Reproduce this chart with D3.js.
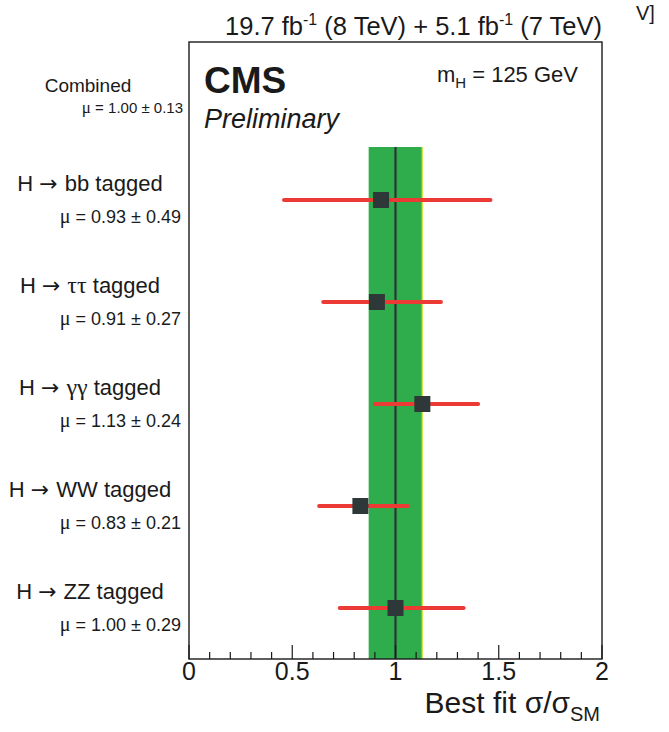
<!DOCTYPE html>
<html>
<head>
<meta charset="utf-8">
<script src="https://cdn.jsdelivr.net/npm/d3@7"></script>
<style>
body { margin: 0; background: #fff; }
text { font-family: "Liberation Sans", Arial, sans-serif; fill: #1a1a1a; }
</style>
</head>
<body>
<div class="mu-container"></div>
<script>
var width = 669, height = 732;

// rows: combined first, then the five tagged channels
var rows = ["comb", "bb", "tt", "gg", "ww", "zz"];
var channelRows = ["bb", "tt", "gg", "ww", "zz"];
var channelNames = ["bb", "ττ", "γγ", "WW", "ZZ"];
var greekName = [false, true, true, false, false];
var bestFit = [0.93, 0.91, 1.13, 0.83, 1.00];
var errLow = [0.46, 0.65, 0.90, 0.63, 0.73];
var errHigh = [1.46, 1.22, 1.40, 1.06, 1.33];
var muLabels = ["= 0.93 ± 0.49", "= 0.91 ± 0.27", "= 1.13 ± 0.24", "= 0.83 ± 0.21", "= 1.00 ± 0.29"];
var combined = { mu: 1.00, err: 0.13, label: "= 1.00 ± 0.13" };
var tickLabels = ["0", "0.5", "1", "1.5", "2"];

var svg = d3.select(".mu-container").append("svg").attr("width", width).attr("height", height);

var x = d3.scaleLinear().domain([0, 2]).range([189, 602]);
var y = d3.scalePoint().domain(rows).range([98, 608]);
var frameTop = 42, frameBottom = 659;

// combined band
svg.append("rect")
	.attr("x", x(combined.mu - combined.err))
	.attr("y", 147)
	.attr("width", x(combined.mu + combined.err) - x(combined.mu - combined.err))
	.attr("height", frameBottom - 147)
	.style("fill", "#2fad4c");
svg.append("line")
	.attr("x1", x(combined.mu + combined.err)).attr("x2", x(combined.mu + combined.err))
	.attr("y1", 147).attr("y2", frameBottom)
	.style("stroke", "#cfe44a").style("stroke-width", 1.5);
svg.append("line")
	.attr("x1", x(combined.mu)).attr("x2", x(combined.mu))
	.attr("y1", 147).attr("y2", frameBottom)
	.style("stroke", "#2b3436").style("stroke-width", 2.2);

// frame
svg.append("rect")
	.attr("x", x(0)).attr("y", frameTop)
	.attr("width", x(2) - x(0)).attr("height", frameBottom - frameTop)
	.style("fill", "none").style("stroke", "#1a1a1a").style("stroke-width", 1.4);

// x axis ticks pointing up
var minor = d3.range(0, 2.001, 0.1);
svg.append("g").selectAll("line").data(minor).enter().append("line")
	.attr("x1", function(d) { return x(d); }).attr("x2", function(d) { return x(d); })
	.attr("y1", frameBottom)
	.attr("y2", function(d) { return Math.abs(d * 2 - Math.round(d * 2)) < 1e-6 ? frameBottom - 14 : frameBottom - 7; })
	.style("stroke", "#1a1a1a").style("stroke-width", 1.2);
svg.append("g").selectAll("text").data(tickLabels).enter().append("text")
	.attr("x", function(d) { return x(+d); })
	.attr("y", 680)
	.attr("text-anchor", "middle")
	.style("font-size", "25px")
	.text(function(d) { return d; });

var xt = svg.append("text").attr("x", 600).attr("y", 713).attr("text-anchor", "end").style("font-size", "30px");
xt.append("tspan").text("Best fit σ/σ");
xt.append("tspan").attr("dy", 8).style("font-size", "20px").text("SM");

// error bars and points
var chans = svg.append("g").selectAll("g").data(channelRows).enter().append("g");
chans.append("line")
	.attr("x1", function(d, i) { return x(errLow[i]); })
	.attr("x2", function(d, i) { return x(errHigh[i]); })
	.attr("y1", function(d) { return y(d); })
	.attr("y2", function(d) { return y(d); })
	.style("stroke", "#ec3b34").style("stroke-width", 4).style("stroke-linecap", "round");
chans.append("rect")
	.attr("x", function(d, i) { return x(bestFit[i]) - 8; })
	.attr("y", function(d) { return y(d) - 8; })
	.attr("width", 16).attr("height", 16)
	.style("fill", "#2f3839");

// row labels
var title = chans.append("text")
	.attr("x", 90)
	.attr("y", function(d) { return y(d) - 9; })
	.attr("text-anchor", "middle")
	.style("font-size", "22px");
title.append("tspan").text("H ");
title.append("tspan").style("font-family", "DejaVu Sans").style("font-size", "22px").text("→ ");
title.append("tspan")
	.style("font-family", function(d, i) { return greekName[i] ? "Liberation Serif" : null; })
	.style("font-size", function(d, i) { return greekName[i] ? "24px" : null; })
	.text(function(d, i) { return channelNames[i]; });
title.append("tspan").text(" tagged");

var muT = chans.append("text")
	.attr("x", 181)
	.attr("y", function(d) { return y(d) + 23; })
	.attr("text-anchor", "end")
	.style("font-size", "18px");
muT.append("tspan").style("font-family", "Liberation Serif").style("font-size", "20px").text("μ ");
muT.append("tspan").text(function(d, i) { return muLabels[i]; });

svg.append("text").attr("x", 88).attr("y", y("comb") - 6).attr("text-anchor", "middle")
	.style("font-size", "19px").text("Combined");
var cm = svg.append("text").attr("x", 183).attr("y", y("comb") + 15).attr("text-anchor", "end")
	.style("font-size", "15px");
cm.append("tspan").style("font-family", "Liberation Serif").style("font-size", "17px").text("μ ");
cm.append("tspan").text(combined.label);

// header texts
var hd = svg.append("text").attr("x", 602).attr("y", 35).attr("text-anchor", "end").style("font-size", "25.5px");
hd.append("tspan").text("19.7 fb");
hd.append("tspan").attr("dy", -10).style("font-size", "16px").text("-1");
hd.append("tspan").attr("dy", 10).text(" (8 TeV) +  5.1 fb");
hd.append("tspan").attr("dy", -10).style("font-size", "16px").text("-1");
hd.append("tspan").attr("dy", 10).text(" (7 TeV)");

svg.append("text").attr("x", 636).attr("y", 20).style("font-size", "20px").text("V]");

svg.append("text").attr("x", 204).attr("y", 93).style("font-size", "37px").style("font-weight", "bold").text("CMS");
svg.append("text").attr("x", 204).attr("y", 128).style("font-size", "27px").style("font-style", "italic").text("Preliminary");

var mh = svg.append("text").attr("x", 578).attr("y", 82).attr("text-anchor", "end").style("font-size", "22px");
mh.append("tspan").text("m");
mh.append("tspan").attr("dy", 6).style("font-size", "15px").text("H");
mh.append("tspan").attr("dy", -6).text(" = 125 GeV");
</script>
</body>
</html>
